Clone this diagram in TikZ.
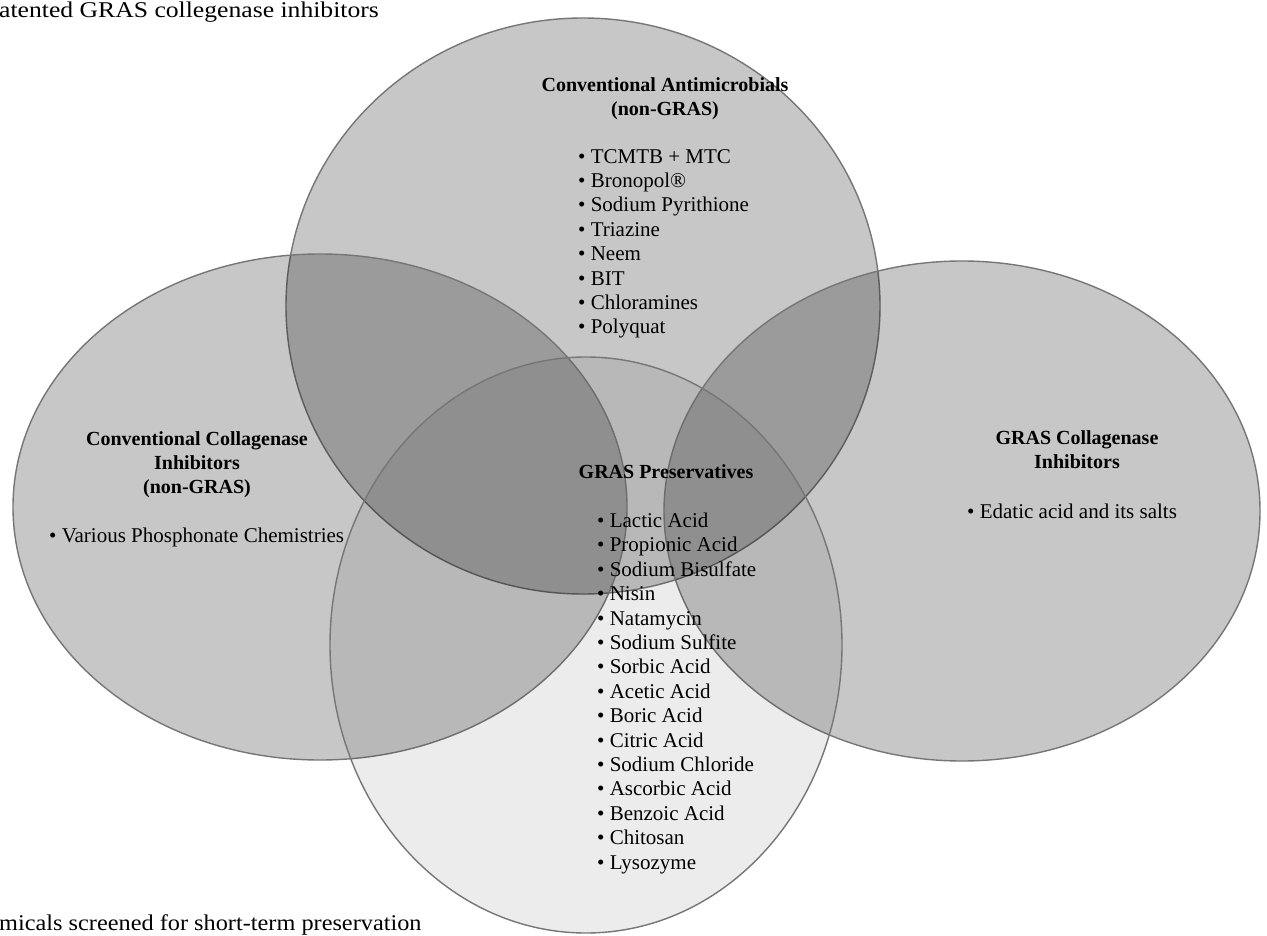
\documentclass[tikz,border=0pt]{standalone}
\usepackage{fontspec}
\usepackage{graphicx}
\setmainfont{Liberation Serif}
\usetikzlibrary{shapes.geometric}
\definecolor{vline}{RGB}{118,118,118}
\begin{document}
\begin{tikzpicture}[x=1pt,y=-1pt,
  venn/.style={ellipse, draw=vline, line width=1.4pt, fill=black, fill opacity=0.22, inner sep=0pt},
  vennlight/.style={ellipse, draw=vline, line width=1.4pt, fill=black, fill opacity=0.075, inner sep=0pt},
  head/.style={align=center, inner sep=0pt, font=\fontsize{20}{24.3}\selectfont\bfseries},
  items/.style={align=left, inner sep=0pt, anchor=north west, font=\fontsize{21}{24.4}\selectfont},
  capt/.style={inner sep=0pt, anchor=base west, font=\fontsize{22.5}{24}\selectfont}]
\useasboundingbox (0,0) rectangle (1267,936);
\clip (0,0) rectangle (1267,936);
\fill[white] (0,0) rectangle (1267,936);
% ellipses
\node[venn, minimum width=594pt, minimum height=576pt] (amb) at (583,306) {};
\node[venn, minimum width=614pt, minimum height=506pt] (ccol) at (320,507) {};
\node[venn, minimum width=596pt, minimum height=500pt] (gcol) at (962,511) {};
\node[vennlight, minimum width=512pt, minimum height=576pt] (gras) at (586,645) {};
% captions
\node[capt] (cap1) at (-1,17.5) {\scalebox{1.14}[1]{atented GRAS collegenase inhibitors}};
\node[capt] (cap2) at (-1,930) {\scalebox{1.08}[1]{micals screened for short-term preservation}};
% top
\node[head, anchor=north] (ambh) at (665,77.5) {Conventional Antimicrobials\\(non-GRAS)};
\node[items] (ambl) at (578,149) {• TCMTB + MTC\\• Bronopol®\\• Sodium Pyrithione\\• Triazine\\• Neem\\• BIT\\• Chloramines\\• Polyquat};
% left
\node[head, anchor=north] (ccolh) at (197,431) {Conventional Collagenase\\Inhibitors\\(non-GRAS)};
\node[items] (ccoll) at (49,527.7) {• Various Phosphonate Chemistries};
% right
\node[head, anchor=north] (gcolh) at (1077,430.5) {GRAS Collagenase\\Inhibitors};
\node[items] (gcoll) at (967,503.7) {• Edatic acid and its salts};
% center
\node[head, anchor=north] (grash) at (666,464.5) {GRAS Preservatives};
\node[items] (grasl) at (597,512.7) {• Lactic Acid\\• Propionic Acid\\• Sodium Bisulfate\\• Nisin\\• Natamycin\\• Sodium Sulfite\\• Sorbic Acid\\• Acetic Acid\\• Boric Acid\\• Citric Acid\\• Sodium Chloride\\• Ascorbic Acid\\• Benzoic Acid\\• Chitosan\\• Lysozyme};
\end{tikzpicture}
\end{document}
